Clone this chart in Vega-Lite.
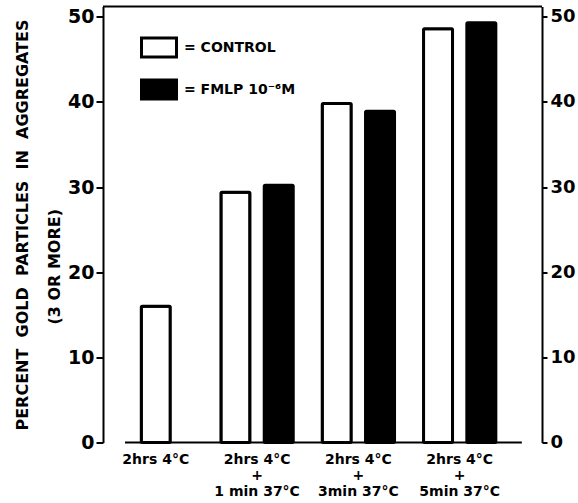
{
  "$schema": "https://vega.github.io/schema/vega-lite/v6.json",
  "width": 439,
  "height": 436,
  "autosize": {"type": "none"},
  "padding": {"left": 103, "top": 6.5, "right": 36, "bottom": 60.5},
  "background": "white",
  "config": {"view": {"stroke": null}, "font": "DejaVu Sans"},
  "data": {
    "values": [
      {"grp": "2hrs 4°C", "series": "CONTROL", "pct": 16.0},
      {"grp": "2hrs 4°C|+|1 min 37°C", "series": "CONTROL", "pct": 29.4},
      {"grp": "2hrs 4°C|+|1 min 37°C", "series": "FMLP 10⁻⁶M", "pct": 30.2},
      {"grp": "2hrs 4°C|+|3min 37°C", "series": "CONTROL", "pct": 39.8},
      {"grp": "2hrs 4°C|+|3min 37°C", "series": "FMLP 10⁻⁶M", "pct": 38.9},
      {"grp": "2hrs 4°C|+|5min 37°C", "series": "CONTROL", "pct": 48.6},
      {"grp": "2hrs 4°C|+|5min 37°C", "series": "FMLP 10⁻⁶M", "pct": 49.3}
    ]
  },
  "resolve": {"axis": {"y": "independent"}},
  "layer": [
    {
      "transform": [{"filter": "datum.grp != '2hrs 4°C'"}],
      "mark": {"type": "bar", "stroke": "black", "strokeWidth": 3, "strokeJoin": "round", "cornerRadius": 1},
      "encoding": {
        "x": {
          "field": "grp", "type": "nominal",
          "scale": {"domain": ["2hrs 4°C", "2hrs 4°C|+|1 min 37°C", "2hrs 4°C|+|3min 37°C", "2hrs 4°C|+|5min 37°C"], "paddingInner": 0.2863, "paddingOuter": 0.31, "align": 0.265},
          "axis": {"title": null, "domain": false, "ticks": false, "labelAngle": 0, "labelExpr": "split(datum.label, '|')", "labelFont": "DejaVu Sans", "labelFontSize": 14, "labelFontWeight": "bold", "labelColor": "black", "labelLineHeight": 16, "labelPadding": 10, "labelBaseline": "top", "labelAlign": "center"}
        },
        "xOffset": {"field": "series", "type": "nominal", "scale": {"domain": ["CONTROL", "FMLP 10⁻⁶M"], "paddingInner": 0.33, "paddingOuter": 0}},
        "y": {
          "field": "pct", "type": "quantitative",
          "scale": {"domain": [0, 51.2], "nice": false, "zero": true},
          "axis": {"orient": "left", "values": [0, 10, 20, 30, 40, 50], "grid": false, "domainColor": "black", "domainWidth": 2, "tickColor": "black", "tickWidth": 2, "tickSize": 7, "labelPadding": 2, "labelFont": "DejaVu Sans", "labelFontSize": 19, "labelFontWeight": "bold", "labelColor": "black",
            "title": ["PERCENT\u00a0 GOLD\u00a0 PARTICLES\u00a0 IN\u00a0 AGGREGATES", "(3 OR MORE)\u00a0\u00a0\u00a0\u00a0\u00a0\u00a0\u00a0\u00a0\u00a0\u00a0\u00a0\u00a0\u00a0\u00a0\u00a0\u200d"],
            "titleFont": "DejaVu Sans", "titleFontSize": 16, "titleFontWeight": "bold", "titleColor": "black", "titleLineHeight": 32, "titlePadding": 5}
        },
        "fill": {
          "field": "series", "type": "nominal",
          "scale": {"domain": ["CONTROL", "FMLP 10⁻⁶M"], "range": ["white", "black"]},
          "legend": {"orient": "none", "legendX": 37, "legendY": 22, "title": null, "padding": 0, "symbolType": "M-1,-0.54H1V0.54H-1Z", "symbolSize": 1225, "symbolStrokeColor": "black", "symbolStrokeWidth": 3, "symbolOpacity": 1, "labelFont": "DejaVu Sans", "labelFontSize": 14, "labelFontWeight": "bold", "labelColor": "black", "labelExpr": "'= ' + datum.label", "rowPadding": 7, "labelOffset": 6}
        }
      }
    },
    {
      "transform": [{"filter": "datum.grp == '2hrs 4°C'"}],
      "mark": {"type": "bar", "stroke": "black", "strokeWidth": 3, "strokeJoin": "round", "cornerRadius": 1, "width": {"band": 0.401}},
      "encoding": {
        "x": {"field": "grp", "type": "nominal"},
        "y": {
          "field": "pct", "type": "quantitative",
          "axis": {"orient": "right", "values": [0, 10, 20, 30, 40, 50], "grid": false, "title": null, "domainColor": "black", "domainWidth": 2, "tickColor": "black", "tickWidth": 2, "tickSize": 5, "labelPadding": 3, "labelFont": "DejaVu Sans", "labelFontSize": 18, "labelFontWeight": "bold", "labelColor": "black"}
        },
        "fill": {"field": "series", "type": "nominal"}
      }
    },
    {
      "data": {"values": [{}]},
      "mark": {"type": "rule", "color": "black", "strokeWidth": 2},
      "encoding": {"y": {"datum": 51.2, "type": "quantitative", "axis": null}}
    },
    {
      "data": {"values": [{}]},
      "mark": {"type": "rule", "color": "black", "strokeWidth": 2},
      "encoding": {
        "x": {"datum": "2hrs 4°C", "type": "nominal", "bandPosition": 0.074},
        "x2": {"datum": "2hrs 4°C|+|5min 37°C", "bandPosition": 1.36},
        "y": {"datum": 0, "type": "quantitative", "axis": null}
      }
    }
  ]
}
